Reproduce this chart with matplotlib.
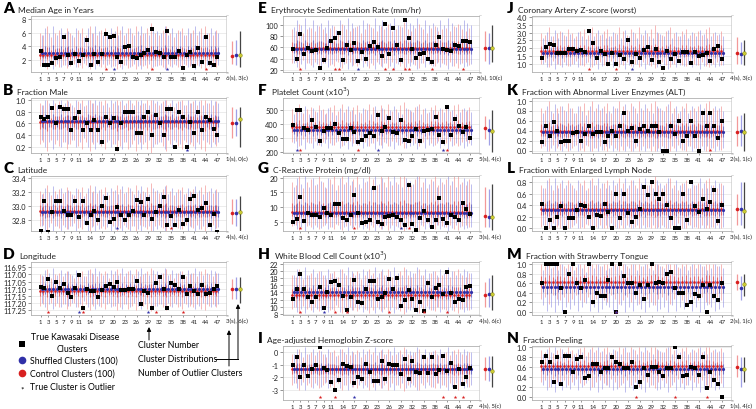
import numpy as np
import matplotlib
matplotlib.use('Agg')
import matplotlib.pyplot as plt
from matplotlib import transforms

plt.rcParams['font.family'] = ['Lato', 'DejaVu Sans']

# ---------------- data ----------------
CLUSTERS = list(range(1, 48))
XTICKS = [1, 3, 5, 7, 9, 11, 14, 17, 20, 23, 26, 29, 32, 35, 38, 41, 44, 47]

LETTERS = list('ABCDEFGHIJKLMN')
TITLES = ['Median Age in Years', 'Fraction Male', 'Latitude', 'Longitude',
          'Erythrocyte Sedimentation Rate (mm/hr)', 'Platelet Count (x10$^3$)',
          'C-Reactive Protein (mg/dl)', 'White Blood Cell Count (x10$^3$)',
          'Age-adjusted Hemoglobin Z-score', 'Coronary Artery Z-score (worst)',
          'Fraction with Abnormal Liver Enzymes (ALT)', 'Fraction with Enlarged Lymph Node',
          'Fraction with Strawberry Tongue', 'Fraction Peeling']

TRUE_A = [3.4, 1.3, 1.3, 1.6, 2.3, 2.4, 5.3, 2.7, 1.6, 2.9, 1.9, 2.7, 5.0, 1.3, 2.9, 1.8,
          2.9, 5.8, 5.3, 5.5, 2.4, 1.8, 3.9, 4.1, 2.4, 2.3, 2.7, 3.0, 3.5, 6.5, 3.2, 3.1,
          2.4, 6.2, 2.4, 2.4, 3.3, 0.9, 2.7, 3.2, 1.2, 3.8, 1.8, 5.3, 1.6, 1.3, 2.4]
TRUE_B = [0.71, 0.67, 0.71, 0.86, 0.61, 0.88, 0.84, 0.84, 0.49, 0.69, 0.79, 0.49, 0.61,
          0.49, 0.66, 0.49, 0.28, 0.71, 0.61, 0.70, 0.16, 0.61, 0.79, 0.79, 0.79, 0.43,
          0.43, 0.71, 0.79, 0.40, 0.75, 0.61, 0.40, 0.84, 0.84, 0.20, 0.79, 0.71, 0.20,
          0.62, 0.44, 0.79, 0.49, 0.71, 0.66, 0.50, 0.40]
TRUE_C = [32.65, 33.08, 32.64, 32.92, 33.08, 33.07, 32.93, 32.87, 32.88, 33.08, 32.85,
          33.08, 32.77, 32.88, 32.94, 32.80, 33.00, 33.12, 32.78, 32.82, 32.99, 32.87,
          32.80, 32.87, 32.94, 33.09, 33.06, 32.88, 33.11, 32.82, 32.92, 33.01, 33.13,
          32.73, 32.86, 32.73, 32.95, 32.75, 32.81, 33.10, 33.15, 32.95, 32.98, 33.05,
          32.74, 32.89, 32.64]
TRUE_D = [117.086, 117.095, 117.032, 117.149, 117.05, 117.098, 117.065, 117.13, 117.16,
          117.095, 117.004, 117.238, 117.10, 117.115, 117.12, 117.16, 117.107, 117.08,
          117.07, 117.086, 117.055, 117.107, 117.11, 117.10, 117.10, 117.048, 117.21,
          117.12, 117.133, 117.238, 117.062, 117.015, 117.10, 117.234, 117.062, 117.074,
          117.10, 117.015, 117.14, 117.08, 117.115, 117.137, 117.072, 117.14, 117.13,
          117.10, 117.084]
TRUE_E = [57, 40, 84, 48, 58, 53, 55, 23, 38, 59, 72, 77, 86, 37, 65, 55, 68, 36, 51, 40,
          62, 69, 60, 44, 101, 49, 94, 65, 38, 109, 76, 57, 41, 48, 50, 39, 34, 65, 78, 57,
          56, 53, 65, 62, 72, 71, 70]
TRUE_F = [393, 502, 502, 374, 356, 431, 376, 274, 351, 369, 369, 398, 336, 289, 289, 374,
          344, 269, 287, 314, 339, 314, 468, 349, 381, 443, 344, 336, 431, 282, 277, 314,
          361, 274, 351, 356, 364, 455, 324, 269, 525, 319, 438, 386, 344, 381, 299]
TRUE_G = [5.0, 6.0, 13.5, 5.3, 7.8, 7.3, 7.3, 6.6, 9.7, 7.8, 7.4, 10.9, 11.2, 6.2, 5.7, 7.1,
          14.0, 7.8, 4.5, 5.0, 5.5, 16.5, 5.0, 4.3, 6.6, 6.8, 7.1, 6.6, 5.5, 4.0, 17.6, 4.2,
          2.2, 6.2, 8.8, 5.5, 3.3, 5.7, 13.2, 6.0, 4.7, 7.4, 6.6, 5.5, 11.4, 9.4, 7.6]
TRUE_H = [12.3, 15.0, 19.2, 15.0, 12.8, 11.4, 12.8, 15.6, 9.6, 14.1, 17.0, 17.1, 16.1,
          13.0, 9.2, 12.6, 17.6, 11.4, 11.0, 14.9, 17.3, 17.3, 12.1, 12.8, 13.8, 17.8,
          15.0, 17.9, 10.3, 11.9, 14.7, 12.3, 9.2, 11.2, 8.9, 16.7, 12.6, 15.3, 16.1,
          13.5, 19.6, 13.9, 11.2, 12.3, 11.9, 15.5, 15.8]
TRUE_I = [-1.0, -0.4, -2.0, -1.0, -1.9, -1.3, -1.0, 0.45, -1.25, -1.4, -2.35, -3.0, -2.2,
          -0.9, -1.1, -1.2, -2.45, -1.95, -2.15, -0.95, -1.6, -2.3, -2.3, -0.7, -2.1, -0.9,
          -1.0, -1.05, -1.75, -0.5, -2.15, -0.7, -1.6, -1.65, -0.35, -1.65, -0.35, -1.75,
          -1.4, -0.3, -1.5, -0.85, -2.8, -1.35, -2.55, -1.95, -1.25]
TRUE_J = [1.38, 2.06, 2.28, 2.19, 1.70, 1.66, 1.70, 1.96, 1.91, 1.79, 1.89, 1.77, 3.09,
          2.34, 1.38, 1.79, 1.60, 1.0, 1.70, 1.0, 1.55, 1.28, 2.51, 1.1, 1.64, 1.38, 1.87,
          2.1, 1.2, 1.91, 1.13, 0.7, 1.81, 1.32, 1.60, 1.19, 1.77, 1.77, 1.06, 1.74, 1.49,
          1.53, 1.70, 1.17, 1.96, 2.13, 1.28]
TRUE_K = [0.17, 0.5, 0.3, 0.58, 0.4, 0.17, 0.2, 0.2, 0.35, 0.38, 0.2, 0.33, 0.5, 0.33,
          0.38, 0.38, 0.17, 0.3, 0.4, 0.3, 0.5, 0.75, 0.4, 0.45, 0.2, 0.43, 0.5, 0.4, 0.5,
          0.5, 0.38, 0.0, 0.0, 0.5, 0.33, 0.6, 0.2, 0.3, 0.6, 0.3, 0.0, 0.75, 0.5, 0.75,
          0.5, 0.25, 0.6]
TRUE_L = [0.43, 0.0, 0.15, 0.0, 0.2, 0.38, 0.0, 0.17, 0.17, 0.31, 0.40, 0.38, 0.2, 0.0,
          0.23, 0.21, 0.43, 0.29, 0.0, 0.6, 0.17, 0.6, 0.27, 0.1, 0.2, 0.34, 0.72, 0.57,
          0.8, 0.6, 0.5, 0.6, 0.4, 0.17, 0.0, 0.0, 0.6, 0.14, 0.8, 0.38, 0.29, 0.5, 0.33,
          0.45, 0.67, 0.13, 0.40]
TRUE_M = [0.61, 1.0, 1.0, 1.0, 1.0, 0.5, 0.0, 0.8, 1.0, 0.61, 0.5, 0.66, 1.0, 0.2, 0.4,
          0.33, 0.33, 0.66, 1.0, 0.0, 1.0, 0.75, 0.61, 0.61, 0.4, 0.57, 0.28, 0.57, 1.0,
          0.61, 0.63, 0.61, 0.8, 0.83, 0.5, 0.4, 0.4, 0.14, 0.2, 0.38, 0.33, 0.57, 0.0,
          0.57, 0.33, 0.25, 0.61]
TRUE_N = [0.71, 0.83, 0.71, 0.29, 0.8, 0.25, 0.83, 0.83, 0.51, 0.76, 0.8, 0.38, 0.41,
          0.67, 0.67, 0.5, 0.58, 0.58, 0.8, 0.7, 0.67, 0.58, 0.58, 0.7, 0.2, 0.29, 0.58,
          0.43, 0.6, 0.6, 0.5, 0.41, 0.58, 0.58, 1.0, 0.8, 0.41, 0.43, 0.6, 0.58, 0.43,
          0.8, 0.17, 0.51, 0.33, 0.25, 0.0]
TRUE = [TRUE_A, TRUE_B, TRUE_C, TRUE_D, TRUE_E, TRUE_F, TRUE_G, TRUE_H, TRUE_I,
        TRUE_J, TRUE_K, TRUE_L, TRUE_M, TRUE_N]

# typical distribution (centre, low, high) of control / shuffled clusters per panel
CTRL_DIST = [(2.7, 1.2, 6.0), (0.62, 0.25, 0.95), (32.93, 32.72, 33.22), (117.12, 117.0, 117.22),
             (59, 32, 92), (378, 270, 510), (8.2, 3.5, 18.5), (13.4, 9.5, 19.0),
             (-1.35, -2.6, -0.1), (1.78, 1.0, 3.0), (0.39, 0.05, 0.85), (0.33, 0.02, 0.75),
             (0.63, 0.28, 1.0), (0.62, 0.3, 0.95)]
SHUF_DIST = [(3.0, 1.3, 6.0), (0.64, 0.28, 0.95), (32.92, 32.70, 33.20), (117.10, 116.99, 117.21),
             (57, 30, 100), (355, 250, 490), (7.8, 3.3, 18.0), (14.0, 9.5, 19.5),
             (-1.3, -2.6, 0.0), (1.66, 0.9, 2.8), (0.37, 0.05, 0.8), (0.31, 0.02, 0.75),
             (0.53, 0.1, 0.92), (0.56, 0.2, 0.9)]
# relative width of each cluster's distribution (small clusters spread more)
SPREAD_CTRL = [1.0, 0.9, 1.3, 0.8, 1.0, 1.1, 0.9, 1.2, 1.0, 0.8, 1.1, 1.2, 0.9, 1.3, 1.0, 0.9,
               1.1, 1.2, 0.8, 1.0, 1.3, 1.1, 0.9, 1.2, 1.0, 1.3, 0.9, 1.0, 1.2, 1.4, 1.0, 0.9,
               1.1, 1.3, 1.0, 0.8, 1.1, 1.2, 0.9, 1.0, 1.1, 0.9, 1.2, 1.3, 1.0, 0.9, 1.1]
SPREAD_SHUF = [0.9, 1.2, 1.0, 1.3, 0.9, 1.2, 1.0, 1.1, 0.9, 1.2, 1.0, 0.8, 1.2, 1.0, 1.3, 1.1,
               0.9, 1.0, 1.2, 1.1, 0.9, 1.3, 1.0, 1.2, 0.9, 1.1, 1.3, 1.0, 0.9, 1.2, 1.1, 1.0,
               1.3, 0.9, 1.2, 1.0, 1.1, 0.9, 1.2, 1.0, 1.3, 1.1, 0.9, 1.0, 1.2, 1.1, 1.0]

OUT_CTRL = [[18, 30, 44], [], [35], [3, 12, 31, 38], [3, 12, 13, 25, 27, 30, 31, 37, 45],
            [3, 18, 41], [3, 17, 31], [3, 12, 15, 26, 35, 41], [8, 12, 40, 43, 45],
            [13, 20], [44], [], [20], [25, 35, 43]]
OUT_SHUF = [[20, 34], [39], [21], [11, 29], [18], [2, 23, 40], [29], [9], [17],
            [24], [], [], [20], []]
OUT_LABELS = ['6(s), 3(c)', '1(s), 0(c)', '4(s), 4(c)', '3(s), 6(c)', '8(s), 10(c)',
              '5(s), 4(c)', '3(s), 4(c)', '4(s), 6(c)', '4(s), 5(c)', '4(s), 3(c)',
              '2(s), 1(c)', '3(s), 1(c)', '2(s), 1(c)', '1(s), 4(c)']

# overall summaries (centre, low, high): control, shuffled, true clusters
SIDE_CTRL = [(2.6, 1.5, 4.8), (0.61, 0.35, 0.88), (32.91, 32.75, 33.10), (117.10, 117.03, 117.17),
             (58, 35, 90), (375, 290, 460), (7.0, 3.0, 17.0), (13.3, 10, 17),
             (-1.3, -2.2, -0.4), (1.68, 1.0, 2.7), (0.38, 0.1, 0.7), (0.33, 0.05, 0.6),
             (0.63, 0.45, 0.8), (0.6, 0.4, 0.85)]
SIDE_SHUF = [(2.8, 1.3, 5.0), (0.61, 0.38, 0.85), (32.91, 32.72, 33.10), (117.10, 117.02, 117.17),
             (58, 30, 85), (355, 250, 440), (6.5, 3.0, 16.0), (13.6, 10, 18),
             (-1.3, -2.3, -0.3), (1.63, 1.0, 2.4), (0.40, 0.1, 0.72), (0.33, 0.05, 0.8),
             (0.5, 0.25, 0.75), (0.57, 0.2, 0.8)]
SIDE_TRUE = [(2.7, 1.0, 6.2), (0.67, 0.2, 0.88), (32.92, 32.65, 33.15), (117.10, 117.02, 117.20),
             (58, 33, 100), (350, 200, 500), (6.5, 2.0, 18.0), (13.5, 9, 19),
             (-1.5, -2.8, -0.3), (1.70, 0.9, 2.5), (0.37, 0.0, 0.75), (0.30, 0.0, 0.8),
             (0.58, 0.33, 0.8), (0.57, 0.3, 0.8)]

YLIMS = [(0.3, 8.4), (0.1, 1.03), (32.65, 33.43), (117.285, 116.913), (16, 116), (190, 590),
         (1.8, 20.6), (7.7, 22.5), (-3.8, 0.5), (0.45, 4.08), (-0.05, 1.05), (-0.05, 0.91),
         (-0.06, 1.04), (-0.07, 1.03)]
YTICKS = [[2, 4, 6, 8], [0.2, 0.4, 0.6, 0.8, 1.0], [32.8, 33.0, 33.2, 33.4],
          [116.95, 117.00, 117.05, 117.10, 117.15, 117.20, 117.25],
          [20, 40, 60, 80, 100], [200, 300, 400, 500], [5, 10, 15, 20],
          [8, 10, 12, 14, 16, 18, 20, 22], [0, -1, -2, -3],
          [1.0, 1.5, 2.0, 2.5, 3.0, 3.5, 4.0], [0.0, 0.2, 0.4, 0.6, 0.8, 1.0],
          [0.0, 0.2, 0.4, 0.6, 0.8], [0.0, 0.2, 0.4, 0.6, 0.8, 1.0],
          [0.0, 0.2, 0.4, 0.6, 0.8, 1.0]]
YFMT = ['{:.0f}', '{:.1f}', '{:.1f}', '{:.2f}', '{:.0f}', '{:.0f}', '{:.0f}', '{:.0f}',
        '{:.0f}', '{:.1f}', '{:.1f}', '{:.1f}', '{:.1f}', '{:.1f}']
FRACTION = [False, True, False, False, False, False, False, False, False,
            False, True, True, True, True]

# ---------------- style ----------------
RED = '#d82020'
BLUE = '#3030a8'
RED_PALE = '#f08080'
BLUE_PALE = '#8888e0'
YELLOW = '#cccc33'
W, H = 756, 410

# pixel layout: (main left, main right, side right) per column; (top, bottom) per row
COLS = [(31, 227, 252), (283, 480, 505), (532, 732, 756)]
ROWS = [(17, 73), (99, 154), (177, 232), (263, 316), (347, 401)]
LETTER_X = [3, 258, 507]
PANEL_POS = [(0, 0), (0, 1), (0, 2), (0, 3), (1, 0), (1, 1), (1, 2), (1, 3), (1, 4),
             (2, 0), (2, 1), (2, 2), (2, 3), (2, 4)]


def rect(x0, x1, y0, y1):
    return [x0 / W, 1 - y1 / H, (x1 - x0) / W, (y1 - y0) / H]


def draw_panel(ax, side, i):
    x = np.array(CLUSTERS, dtype=float)
    for dist, spread, pale, dark, off, ms in [(CTRL_DIST[i], SPREAD_CTRL, RED_PALE, RED, -0.25, 1.9),
                                              (SHUF_DIST[i], SPREAD_SHUF, BLUE_PALE, BLUE, 0.25, 2.3)]:
        cen, lo, hi = dist
        s = np.array(spread)
        lo_i = cen - (cen - lo) * s
        hi_i = cen + (hi - cen) * s
        if FRACTION[i]:
            lo_i = np.clip(lo_i, 0, 1)
            hi_i = np.clip(hi_i, 0, 1)
        ax.vlines(x + off, lo_i, hi_i, color=pale, lw=0.65, alpha=0.6, zorder=1)
        ax.vlines(x + off, cen - (cen - lo) * s * 0.3, cen + (hi - cen) * s * 0.3,
                  color=dark, lw=0.8, alpha=0.5, zorder=2)
        ax.plot(x + off, [cen] * len(x), 'o', color=dark, ms=ms, mew=0, zorder=3)
    ax.plot(x, TRUE[i], 's', color='black', ms=3.3, mew=0, zorder=5)

    trans = transforms.blended_transform_factory(ax.transData, ax.transAxes)
    if OUT_CTRL[i]:
        ax.plot(OUT_CTRL[i], [0.05] * len(OUT_CTRL[i]), '*', color=RED, ms=2.8, mew=0,
                transform=trans, zorder=6, clip_on=False)
    if OUT_SHUF[i]:
        ax.plot(OUT_SHUF[i], [0.05] * len(OUT_SHUF[i]), '*', color=BLUE, ms=2.8, mew=0,
                transform=trans, zorder=6, clip_on=False)

    ax.set_xlim(-1.5, 49.5)
    ax.set_ylim(*YLIMS[i])
    ax.set_xticks(XTICKS)
    ax.set_xticklabels([str(t) for t in XTICKS])
    ax.set_yticks(YTICKS[i])
    ax.set_yticklabels([YFMT[i].format(t) for t in YTICKS[i]])
    ax.tick_params(axis='x', labelsize=4.3, length=1.5, width=0.4, pad=1.5,
                   colors='#444444', labelcolor='#222222')
    ax.tick_params(axis='y', labelsize=5.3, length=2, width=0.4, pad=1.5,
                   colors='#444444', labelcolor='#222222')
    ax.grid(axis='y', color='#e4e4e4', lw=0.5, zorder=0)
    ax.set_axisbelow(True)
    for sp in ax.spines.values():
        sp.set_color('#b0b0b0')
        sp.set_linewidth(0.6)
    ax.spines['right'].set_color('#d0d0d0')
    ax.spines['right'].set_linewidth(1.8)

    # overall summary at the right
    for pos, (cen, lo, hi), line_c, dot_c in [(0, SIDE_CTRL[i], RED_PALE, RED),
                                               (1, SIDE_SHUF[i], BLUE_PALE, BLUE),
                                               (2, SIDE_TRUE[i], '#444444', YELLOW)]:
        side.vlines(pos, lo, hi, color=line_c, lw=0.9, alpha=0.8 if pos < 2 else 1)
        side.plot(pos, cen, 'o', color=dot_c, ms=2.6, mew=0.3 if pos == 2 else 0,
                  mec='#777700')
    side.set_xlim(-1.5, 5.5)
    side.set_ylim(*YLIMS[i])
    side.set_xticks([1.2])
    side.set_xticklabels([OUT_LABELS[i]])
    side.set_yticks([])
    side.tick_params(axis='x', labelsize=4.3, length=0, pad=2.2, labelcolor='#222222')
    for sp in side.spines.values():
        sp.set_visible(False)


fig = plt.figure(figsize=(W / 100, H / 100), dpi=100)
renderer = fig.canvas.get_renderer()

for i, (c, r) in enumerate(PANEL_POS):
    x0, x1, x2 = COLS[c]
    y0, y1 = ROWS[r]
    ax = fig.add_axes(rect(x0, x1, y0, y1))
    side = fig.add_axes(rect(x1, x2, y0, y1))
    draw_panel(ax, side, i)
    base = 1 - (y0 - 4) / H
    let = fig.text(LETTER_X[c] / W, base, LETTERS[i], fontsize=11, fontweight='heavy',
                   va='baseline', ha='left')
    bb = let.get_window_extent(renderer)
    fig.text((bb.x1 + 4) / W, base, TITLES[i], fontsize=6.0, va='baseline', ha='left',
             color='#222222')

# legend and explanation in the free lower-left corner (pixel coordinates)
lg = fig.add_axes([0, 0, 1, 1], zorder=10)
lg.set_xlim(0, W)
lg.set_ylim(H, 0)
lg.axis('off')
lg.patch.set_alpha(0)

fs = 6.3
lg.plot(22, 345, 's', color='black', ms=5, mew=0)
lg.text(31, 338, 'True Kawasaki Disease', va='center', fontsize=fs)
lg.text(72, 349.5, 'Clusters', va='center', ha='center', fontsize=fs)
lg.plot(22, 361, 'o', color=BLUE, ms=5.5, mew=0)
lg.text(30, 361, 'Shuffled Clusters (100)', va='center', fontsize=fs)
lg.plot(22, 374, 'o', color=RED, ms=5.5, mew=0)
lg.text(30, 374, 'Control Clusters (100)', va='center', fontsize=fs)
lg.text(22, 390, '*', va='center', ha='center', fontsize=6)
lg.text(30, 388, 'True Cluster is Outlier', va='center', fontsize=fs)

lg.text(138, 346, 'Cluster Number', va='center', fontsize=fs)
lg.text(138, 360, 'Cluster Distributions', va='center', fontsize=fs)
lg.text(138, 374, 'Number of Outlier Clusters', va='center', fontsize=fs)
arrow = dict(arrowstyle='-|>', lw=0.7, color='black', mutation_scale=6, shrinkA=0, shrinkB=0)
lg.annotate('', xy=(149, 328), xytext=(149, 341), arrowprops=arrow)
lg.annotate('', xy=(229, 331), xytext=(229, 367), arrowprops=arrow)
lg.plot([215, 238], [360, 360], color='black', lw=0.7)
lg.annotate('', xy=(238, 305), xytext=(238, 360), arrowprops=arrow)

fig.savefig('out.png', dpi=100)
